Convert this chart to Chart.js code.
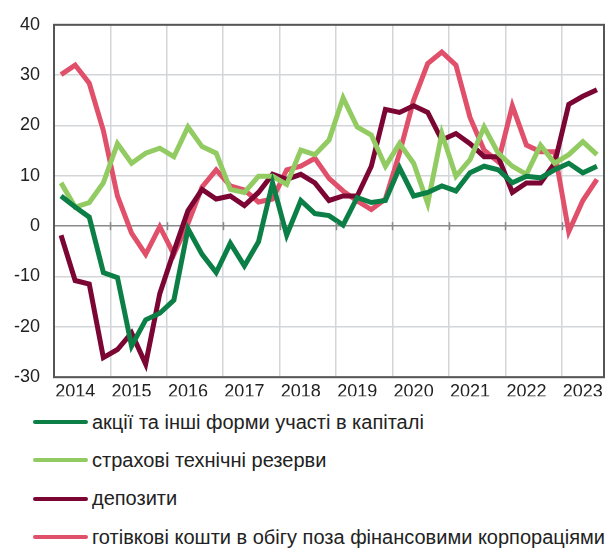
<!DOCTYPE html>
<html>
<head>
<meta charset="utf-8">
<script src="https://cdn.jsdelivr.net/npm/chart.js@4.4.1/dist/chart.umd.min.js"></script>
<style>
  html, body { margin: 0; padding: 0; background: #fff; }
  body { width: 608px; height: 548px; overflow: hidden; font-family: "Liberation Sans", Arial, sans-serif; }
  #wrap { position: relative; width: 608px; height: 402px; }
  #legend { list-style: none; margin: 0; padding: 0; position: absolute; left: 33px; top: 403px; }
  #legend li { display: flex; align-items: center; height: 38.3px; font-size: 20px; color: #222; white-space: nowrap; }
  #legend li span.sw { display: inline-block; width: 55px; height: 4px; border-radius: 2px; margin-right: 4px; }
</style>
</head>
<body>
<div id="wrap"><canvas id="chart"></canvas></div>
<ul id="legend"></ul>
<script>
// роки (мітки осі X) – по 4 квартали, останній рік до III кв.
const years = ['2014', '2015', '2016', '2017', '2018', '2019', '2020', '2021', '2022', '2023'];

// назви рядів
const seriesNames = [
  'акції та інші форми участі в капіталі',
  'страхові технічні резерви',
  'депозити',
  'готівкові кошти в обігу поза фінансовими корпораціями'
];

// значення, % р/р (2014 I кв. – 2023 III кв.)
const shares = [
  6.0, 3.8, 1.8, -9.2, -10.2, -23.8, -18.6, -17.3, -14.7, -0.5,
  -5.6, -9.2, -3.4, -7.9, -3.1, 8.6, -1.8, 5.1, 2.5, 2.1,
  0.2, 5.7, 4.7, 5.1, 11.6, 6.0, 6.7, 8.0, 7.0, 10.6,
  11.9, 11.2, 8.6, 9.9, 9.6, 11.2, 12.5, 10.6, 11.9
];
const insurance = [
  8.6, 3.8, 4.7, 8.6, 16.4, 12.5, 14.5, 15.5, 13.8, 19.7,
  15.8, 14.5, 7.3, 6.7, 9.9, 9.9, 8.3, 15.1, 14.2, 17.1,
  25.5, 19.7, 18.1, 11.9, 16.4, 12.5, 4.5, 18.4, 9.9, 13.2,
  19.7, 14.5, 11.9, 10.3, 16.1, 12.5, 14.2, 16.8, 14.2
];
const deposits = [
  -1.8, -10.8, -11.5, -26.1, -24.5, -21.2, -27.4, -13.4, -5.0, 3.1,
  7.3, 5.4, 6.0, 4.1, 6.7, 10.3, 9.3, 10.3, 8.6, 5.1,
  6.0, 6.0, 11.9, 23.2, 22.6, 23.9, 22.6, 17.1, 18.4, 16.4,
  13.8, 13.8, 6.7, 8.6, 8.6, 12.5, 24.2, 25.8, 27.1
];
const cash = [
  30.1, 32.0, 28.4, 19.0, 6.0, -1.4, -5.6, -0.1, -5.6, 0.5,
  7.8, 11.2, 8.0, 7.2, 4.8, 5.4, 11.2, 11.9, 13.5, 9.5,
  7.0, 5.0, 3.3, 5.4, 14.5, 25.0, 32.3, 34.6, 32.0, 21.6,
  15.1, 12.8, 23.9, 16.1, 14.8, 14.8, -1.1, 5.1, 9.3
];

const colors = ['#0b7f45', '#92cb62', '#7b0634', '#e0506a'];

// квартальні категорії
const labels = [];
years.forEach(y => {
  for (let q = 1; q <= 4; q++) labels.push(y + ' ' + q);
});
labels.length = shares.length;

const seriesData = [shares, insurance, deposits, cash];

// рамка навколо області графіка + позначки на нульовій лінії
const framePlugin = {
  id: 'frame',
  afterDraw(chart) {
    const { ctx, chartArea, scales } = chart;
    const x = scales.x, y = scales.y;
    const y0 = y.getPixelForValue(0);
    const half = (x.getPixelForValue(1) - x.getPixelForValue(0)) / 2;
    ctx.save();
    ctx.strokeStyle = '#8a8a8a';
    ctx.lineWidth = 1.5;
    for (let i = 4; i < labels.length; i += 4) {
      const px = Math.round(x.getPixelForValue(i) - half) + 0.5;
      ctx.beginPath();
      ctx.moveTo(px, y0 - 4);
      ctx.lineTo(px, y0 + 4);
      ctx.stroke();
    }
    ctx.strokeStyle = '#555';
    ctx.lineWidth = 2;
    ctx.strokeRect(chartArea.left, chartArea.top, chartArea.right - chartArea.left, chartArea.bottom - chartArea.top);
    ctx.restore();
  }
};

const chart = new Chart(document.getElementById('chart'), {
  type: 'line',
  data: {
    labels: labels,
    datasets: seriesNames.map((name, i) => ({
      label: name,
      data: seriesData[i],
      borderColor: colors[i],
      backgroundColor: colors[i],
      borderWidth: 5,
      pointRadius: 0,
      tension: 0,
      borderJoinStyle: 'miter'
    }))
  },
  options: {
    responsive: true,
    maintainAspectRatio: false,
    animation: false,
    layout: { padding: { top: 7.2, right: 4, left: 0, bottom: 0 } },
    plugins: {
      legend: { display: false },
      tooltip: { enabled: false }
    },
    scales: {
      x: {
        offset: true,
        grid: {
          offset: true,
          drawTicks: false,
          color: ctx => (ctx.index % 4 === 0 ? '#d2d6d9' : 'rgba(0,0,0,0)'),
          lineWidth: 1.5
        },
        border: { display: false },
        ticks: {
          autoSkip: false,
          maxRotation: 0,
          padding: 4,
          color: '#222',
          font: { family: 'Liberation Sans', size: 18 },
          callback: (v, i) => (i % 4 === 1 ? years[Math.floor(i / 4)] : '')
        },
        afterFit: s => { s.height = 19; }
      },
      y: {
        min: -30,
        max: 40,
        grid: {
          drawTicks: false,
          color: ctx => (ctx.tick && ctx.tick.value === 0 ? '#8a8a8a' : '#d2d6d9'),
          lineWidth: 1.5
        },
        border: { display: false },
        ticks: {
          stepSize: 10,
          padding: 14,
          color: '#222',
          font: { family: 'Liberation Sans', size: 18 }
        },
        afterFit: s => { s.width = 54; }
      }
    }
  },
  plugins: [framePlugin]
});

// легенда під графіком
const legend = document.getElementById('legend');
seriesNames.forEach((name, i) => {
  const li = document.createElement('li');
  li.innerHTML = `<span class="sw" style="background:${colors[i]}"></span>${name}`;
  legend.appendChild(li);
});
</script>
</body>
</html>
